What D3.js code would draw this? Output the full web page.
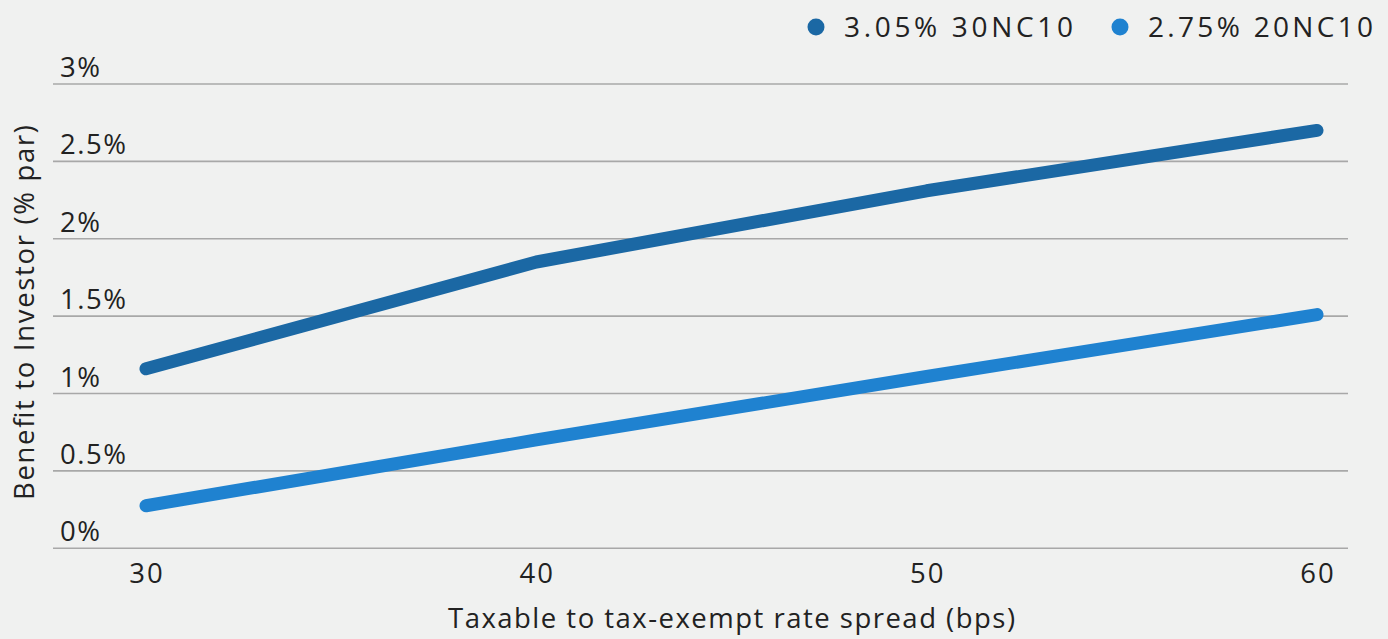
<!DOCTYPE html>
<html>
<head>
<meta charset="utf-8">
<script src="https://cdn.jsdelivr.net/npm/d3@7"></script>
<style>
  html, body { margin: 0; padding: 0; background: #f0f1f0; }
  svg { display: block; }
  text { font-family: "Open Sans", "Noto Sans", sans-serif; fill: #222; }
</style>
</head>
<body>
<svg id="chart" width="1388" height="639"></svg>
<script>
const spreads = [30, 40, 50, 60];
const seriesNames = ["3.05% 30NC10", "2.75% 20NC10"];
const series30NC10 = [1.16, 1.85, 2.31, 2.70];
const series20NC10 = [0.275, 0.70, 1.11, 1.51];
const yTicks = [0, 0.5, 1, 1.5, 2, 2.5, 3];
const xTicks = [30, 40, 50, 60];
const colors = ["#1b68a4", "#1f82d0"];

const svg = d3.select("#chart");
const W = 1388, H = 639;
svg.append("rect").attr("width", W).attr("height", H).attr("fill", "#f0f1f0");

const x = d3.scaleLinear().domain([30, 60]).range([146, 1317]);
const y = d3.scaleLinear().domain([0, 3]).range([548.3, 84]);
const gridLeft = 53, gridRight = 1348;

// gridlines
svg.append("g").selectAll("line").data(yTicks).join("line")
  .attr("x1", gridLeft).attr("x2", gridRight)
  .attr("y1", d => y(d)).attr("y2", d => y(d))
  .attr("stroke", "#a8a8a8").attr("stroke-width", 1.6);

// y tick labels
svg.append("g").selectAll("text").data(yTicks).join("text")
  .attr("x", 60).attr("y", d => y(d) - 7)
  .attr("font-size", 27.5)
  .attr("letter-spacing", 1.5)
  .text(d => d3.format("~g")(d) + "%");

// x tick labels
svg.append("g").selectAll("text").data(xTicks).join("text")
  .attr("x", d => x(d) + 1).attr("y", 583)
  .attr("text-anchor", "middle")
  .attr("font-size", 27.5)
  .attr("letter-spacing", 2)
  .text(d => d);

// axis titles
svg.append("text")
  .attr("x", 448).attr("y", 628)
  .attr("font-size", 27.5)
  .attr("textLength", 567).attr("lengthAdjust", "spacing")
  .text("Taxable to tax-exempt rate spread (bps)");

svg.append("text")
  .attr("transform", `translate(34, 500) rotate(-90)`)
  .attr("font-size", 27.5)
  .attr("textLength", 375).attr("lengthAdjust", "spacing")
  .text("Benefit to Investor (% par)");

// lines
const data = [series30NC10, series20NC10];
const line = d3.line().x((d, i) => x(spreads[i])).y(d => y(d));
svg.append("g").selectAll("path").data(data).join("path")
  .attr("d", d => line(d))
  .attr("fill", "none")
  .attr("stroke", (d, i) => colors[i])
  .attr("stroke-width", 13)
  .attr("stroke-linecap", "round")
  .attr("stroke-linejoin", "round");

// legend
const legendX = [816, 1120];
const legendW = [229, 225];
const lg = svg.append("g");
seriesNames.forEach((name, i) => {
  lg.append("circle").attr("cx", legendX[i]).attr("cy", 27).attr("r", 8.5).attr("fill", colors[i]);
  lg.append("text").attr("x", legendX[i] + 28).attr("y", 37)
    .attr("font-size", 28)
    .attr("textLength", legendW[i]).attr("lengthAdjust", "spacing")
    .text(name);
});
</script>
</body>
</html>
